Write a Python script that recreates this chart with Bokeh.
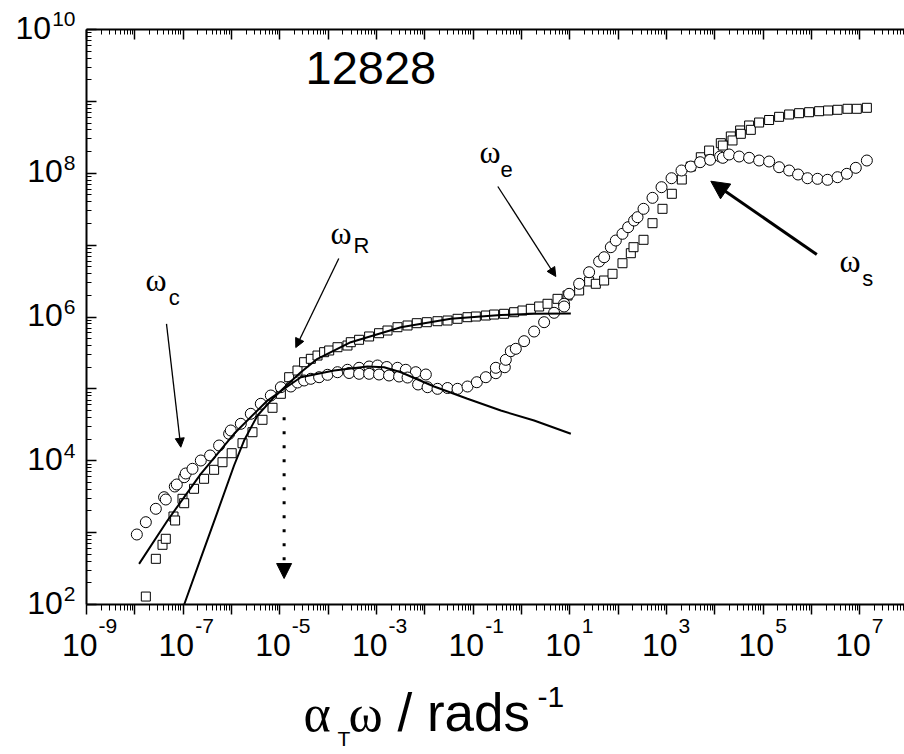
from bokeh.plotting import figure
from bokeh.models import LogAxis, FixedTicker, Label, Arrow, NormalHead, CustomJSTickFormatter
from bokeh.embed import file_html
from bokeh.resources import INLINE

# ---------------- data ----------------
# G' (open squares)
gp_x = [1.69e-8, 2.72e-8, 3.74e-8, 4.37e-8, 6.31e-8, 6.81e-8, 9.69e-8, 1.05e-7, 1.68e-7,
        2.71e-7, 4.37e-7, 6.52e-7, 1.01e-6, 1.69e-6, 2.72e-6, 4.38e-6, 7.06e-6, 1.05e-5, 1.56e-5,
        2.32e-5, 3.18e-5, 4.38e-5, 6.02e-5, 8.25e-5, 1.05e-4, 1.56e-4, 2.51e-4, 2.94e-4, 4.37e-4,
        7.04e-4, 1.13e-3, 1.69e-3, 2.72e-3, 4.39e-3, 6.82e-3, 1.10e-2, 1.83e-2, 2.95e-2, 4.75e-2,
        7.64e-2, 0.1135, 0.183, 0.2715, 0.437, 0.704, 1.05, 1.56, 2.32, 3.46,
        5.57, 8.96, 15.6, 25.1, 34.5, 51.3, 76.5, 123, 183, 208,
        335, 514, 828, 1290, 2077, 3189, 5134, 7627, 13320, 14650,
        21450, 23240, 33400, 34540, 51290, 55600, 82600, 1.33e5, 2.14e5, 3.45e5,
        5.55e5, 8.94e5, 1.44e6, 2.21e6, 3.46e6, 5.57e6, 8.67e6, 1.40e7]
gp_y = [129, 432, 677, 821, 1676, 1475, 2955, 2566, 4072,
        5610, 7483, 9546, 12735, 17540, 24950, 37140, 54560, 85400, 1.453e5,
        1.80e5, 2.35e5, 2.62e5, 2.91e5, 3.24e5, 3.42e5, 3.80e5, 4.01e5, 4.46e5, 4.82e5,
        5.36e5, 5.95e5, 6.49e5, 7.21e5, 7.62e5, 8.20e5, 8.47e5, 8.74e5, 8.94e5, 9.44e5,
        9.94e5, 1.016e6, 1.049e6, 1.083e6, 1.108e6, 1.166e6, 1.231e6, 1.30e6, 1.40e6, 1.527e6,
        1.79e6, 1.99e6, 2.34e6, 3.12e6, 2.90e6, 3.22e6, 3.99e6, 5.60e6, 7.72e6, 9.36e6,
        1.186e7, 2.02e7, 3.20e7, 5.18e7, 8.18e7, 1.24e8, 1.67e8, 2.07e8, 2.62e8, 2.43e8,
        3.25e8, 2.86e8, 3.94e8, 3.54e8, 4.62e8, 4.02e8, 5.08e8, 5.51e8, 6.10e8, 6.57e8,
        6.85e8, 7.07e8, 7.30e8, 7.47e8, 7.64e8, 7.89e8, 7.89e8, 8.14e8]

# G'' (open circles)
gpp_x = [1.10e-8, 1.69e-8, 2.72e-8, 4.03e-8, 4.37e-8, 6.71e-8, 7.38e-8, 1.05e-7, 1.13e-7, 1.56e-7,
         2.32e-7, 3.61e-7, 5.54e-7, 8.93e-7, 9.67e-7, 1.56e-6, 2.51e-6, 4.04e-6, 6.51e-6, 1.05e-5,
         1.69e-5, 2.32e-5, 3.18e-5, 4.38e-5, 6.50e-5, 9.70e-5, 1.56e-4, 2.51e-4, 4.37e-4, 7.04e-4,
         1.05e-3, 1.635e-3, 2.72e-3, 4.04e-3, 6.51e-3, 1.05e-2, 2.71e-4, 4.37e-4, 7.04e-4, 1.13e-3,
         1.82e-3, 2.94e-3, 4.39e-3, 7.26e-3, 1.14e-2, 1.83e-2, 2.95e-2, 4.75e-2, 7.64e-2, 0.119,
         0.183, 0.295, 0.295, 0.452, 0.474, 0.601, 0.763, 1.133, 1.825, 2.94,
         4.73, 7.62, 7.62, 9.67, 15.6, 25.1, 40.4, 51.3, 70.5, 89.5,
         123, 161, 214, 252, 335, 514, 790, 1272, 2048, 3189,
         4966, 7998, 12880, 14650, 19770, 31840, 51290, 82600, 1.33e5, 2.14e5,
         3.45e5, 5.29e5, 8.28e5, 1.334e6, 2.15e6, 3.46e6, 5.39e6, 8.27e6, 1.40e7]
gpp_y = [942, 1397, 2145, 3111, 2890, 4383, 4674, 5904, 6649, 7727,
         10080, 11840, 16300, 23710, 26360, 32660, 45000, 62000, 80870, 1.055e5,
         1.079e5, 1.227e5, 1.308e5, 1.381e5, 1.453e5, 1.570e5, 1.706e5, 1.843e5, 1.965e5, 2.048e5,
         2.115e5, 2.015e5, 1.965e5, 1.843e5, 1.706e5, 1.585e5, 1.663e5, 1.621e5, 1.621e5, 1.585e5,
         1.535e5, 1.486e5, 1.439e5, 1.151e5, 1.055e5, 1.002e5, 1.028e5, 1.002e5, 1.079e5, 1.238e5,
         1.453e5, 1.652e5, 1.965e5, 2.0e5, 2.538e5, 3.344e5, 3.61e5, 4.61e5, 6.28e5, 8.47e5,
         1.144e6, 1.527e6, 1.40e6, 2.10e6, 2.90e6, 4.20e6, 5.92e6, 6.79e6, 9.36e6, 1.159e7,
         1.438e7, 1.776e7, 2.20e7, 2.447e7, 3.20e7, 4.55e7, 6.40e7, 8.53e7, 1.092e8, 1.24e8,
         1.425e8, 1.538e8, 1.71e8, 1.64e8, 1.824e8, 1.71e8, 1.641e8, 1.504e8, 1.457e8, 1.214e8,
         1.092e8, 9.61e7, 8.53e7, 8.37e7, 8.11e7, 8.81e7, 9.82e7, 1.19e8, 1.504e8]

# model curves (solid lines)
fit_gp_x = [1.05e-7, 2.32e-7, 5.14e-7, 1.13e-6, 1.82e-6, 3.45e-6, 7.61e-6, 1.44e-5, 2.72e-5,
            6.02e-5, 2.94e-4, 3.19e-3, 3.45e-2, 0.3735, 1.825, 10.5]
fit_gp_y = [100, 441, 1949, 8590, 19130, 42640, 76600, 1.151e5, 1.706e5,
            2.62e5, 4.46e5, 7.21e5, 9.44e5, 1.066e6, 1.108e6, 1.119e6]
fit_gpp_x = [1.225e-8, 4.74e-8, 2.32e-7, 1.13e-6, 5.56e-6, 1.44e-5, 2.72e-5, 1.327e-4,
             6.52e-4, 1.438e-3, 3.19e-3, 1.557e-2, 7.64e-2, 0.3735, 1.825, 10.5]
fit_gpp_y = [368, 1475, 6580, 23710, 68900, 1.079e5, 1.453e5, 1.80e5,
             2.048e5, 2.003e5, 1.706e5, 1.079e5, 72800, 50000, 36300, 23710]

# tick labels
x_label_val = [1e-9, 1e-7, 1e-5, 1e-3, 1e-1, 1e1, 1e3, 1e5, 1e7]
x_label_exp = ["-9", "-7", "-5", "-3", "-1", "1", "3", "5", "7"]
y_label_val = [1e2, 1e4, 1e6, 1e8, 1e10]
y_label_exp = ["2", "4", "6", "8", "10"]

x_major = [1e-9, 1e-8, 1e-7, 1e-6, 1e-5, 1e-4, 1e-3, 1e-2, 1e-1, 1e0, 1e1, 1e2, 1e3, 1e4, 1e5, 1e6, 1e7]
y_major = [1e2, 1e3, 1e4, 1e5, 1e6, 1e7, 1e8, 1e9, 1e10]
mantissas = [2, 3, 4, 5, 6, 7, 8, 9]
x_minor = [m * d for d in x_major for m in mantissas]
y_minor = [m * d for d in y_major[:-1] for m in mantissas]

# axis extents (data box)
X_LO, X_HI = 1e-9, 8.414e7
Y_LO, Y_HI = 1e2, 1e10

SANS = "Liberation Sans"
SERIF = "Liberation Serif"
BASE_FIX = 0.43  # label baseline correction, fraction of font size

# the frame fills the whole canvas; the axes are pinned to the data box
p = figure(width=904, height=754, x_axis_type="log", y_axis_type="log",
           x_range=(1.662e-11, 8.414e7), y_range=(0.8185, 2.533e10),
           output_backend="svg", toolbar_location=None,
           min_border_left=0, min_border_right=0, min_border_top=0, min_border_bottom=0,
           background_fill_color="white", border_fill_color="white", outline_line_color=None)
p.grid.visible = False


def style_axis(ax, ticks, minors, inward, loc, bounds):
    ax.ticker = FixedTicker(ticks=ticks, minor_ticks=minors)
    ax.formatter = CustomJSTickFormatter(code="return ''")
    ax.major_label_text_color = None
    ax.major_label_text_font_size = "1px"
    ax.fixed_location = loc
    ax.bounds = bounds
    ax.axis_line_width = 2
    ax.axis_line_color = "black"
    ax.major_tick_line_width = 1.5
    ax.minor_tick_line_width = 1
    ax.major_tick_line_color = "black"
    ax.minor_tick_line_color = "black"
    if inward:
        ax.major_tick_in, ax.major_tick_out = 10, 0
        ax.minor_tick_in, ax.minor_tick_out = 5, 0
    else:
        ax.major_tick_in, ax.major_tick_out = 0, 10
        ax.minor_tick_in, ax.minor_tick_out = 0, 6


style_axis(p.xaxis[0], x_major, x_minor, False, Y_LO, (X_LO, X_HI))
style_axis(p.yaxis[0], y_major, y_minor, True, X_LO, (Y_LO, Y_HI))
top = LogAxis()
style_axis(top, x_major, x_minor, True, Y_HI, (X_LO, X_HI))
p.add_layout(top, "above")

# data
p.scatter(gp_x, gp_y, marker="square", size=9, fill_color="white", line_color="black", line_width=1)
p.scatter(gpp_x, gpp_y, marker="circle", size=11, fill_color="white", line_color="black", line_width=1)
p.line(fit_gp_x, fit_gp_y, line_color="black", line_width=2)
p.line(fit_gpp_x, fit_gpp_y, line_color="black", line_width=2)


def lab(text, x, y, size, font=SANS, align="left", xu="screen", yu="screen", xo=0, yo=0):
    p.add_layout(Label(x=x, y=y, x_units=xu, y_units=yu, x_offset=xo,
                       y_offset=yo + BASE_FIX * size, text=text,
                       text_font=font, text_font_size=f"{size}px", text_align=align,
                       text_baseline="alphabetic", text_color="black"))


# tick labels (screen y measured up from the canvas bottom)
for v, e in zip(x_label_val, x_label_exp):
    lab("10", v, 96, 32, xu="data", align="right", xo=11)
    lab(e, v, 119, 21, xu="data", align="left", xo=12)
for v, e in zip(y_label_val, y_label_exp):
    sw = len(e) * 0.556 * 21
    lab("10", 74 - sw, v, 32, yu="data", align="right", yo=-12)
    lab(e, 75, v, 21, yu="data", align="right", yo=1)

# axis title
lab("\u03b1", 303, 19, 52, font=SERIF)
lab("T", 337, 7, 21)
lab("\u03c9", 348, 19, 52, font=SERIF)
lab("/ rads", 397, 19, 53)
lab("-1", 537, 45, 30)

# sample label
lab("12828", 305, 666, 47)

# characteristic frequencies
lab("\u03c9", 145, 460.7, 32, font=SERIF)
lab("c", 168.3, 448, 22)
lab("\u03c9", 330, 508, 32, font=SERIF)
lab("R", 353, 500, 22)
lab("\u03c9", 479, 589, 32, font=SERIF)
lab("e", 500, 575.7, 22)
lab("\u03c9", 839, 480, 32, font=SERIF)
lab("s", 861.7, 466.7, 22)


def arrow(x0, y0, x1, y1, lw, hs, dash="solid"):
    p.add_layout(Arrow(end=NormalHead(size=hs, fill_color="black", line_color="black", line_width=1),
                       x_start=x0, y_start=y0, x_end=x1, y_end=y1,
                       line_width=lw, line_color="black", line_dash=dash))


arrow(4.52e-8, 8.04e5, 8.94e-8, 15430, 1.3, 9)
arrow(1.66e-4, 6.52e6, 2.14e-5, 3.76e5, 1.3, 9)
arrow(0.324, 6.54e7, 5.13, 3.66e6, 1.3, 9)
arrow(1.29e6, 7.41e6, 8270, 7.75e7, 3, 18)
arrow(1.227e-5, 40370, 1.227e-5, 230, 3, 15, dash="3 11")

open("out.html", "w").write(file_html(p, INLINE))
